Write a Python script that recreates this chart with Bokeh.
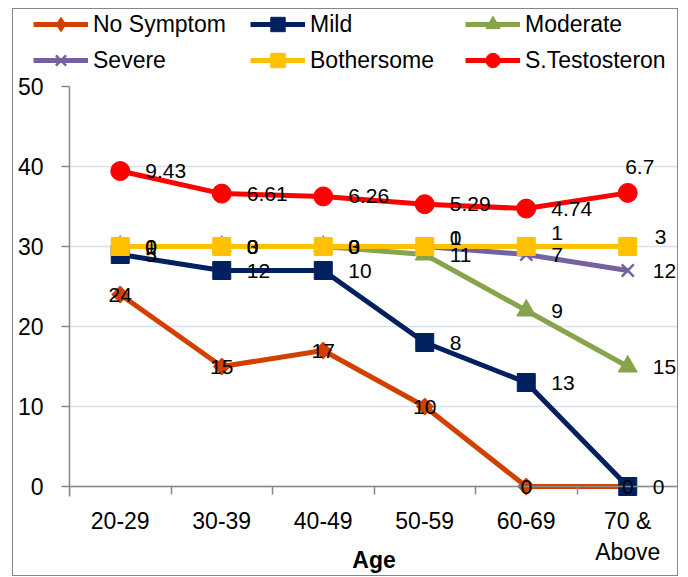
import numpy as np
from bokeh.plotting import figure
from bokeh.layouts import column
from bokeh.core.properties import value
from bokeh.models import (ColumnDataSource, Range1d, FixedTicker, Legend, LegendItem,
                          LabelSet, LinearAxis)
from bokeh.embed import file_html
from bokeh.resources import INLINE

# Age groups and symptom counts (stacked), testosterone stacked on top
age_groups = ["20-29", "30-39", "40-49", "50-59", "60-69", "70 &\nAbove"]
no_symptom = [24, 15, 17, 10, 0, 0]
mild = [5, 12, 10, 8, 13, 0]
moderate = [1, 3, 3, 11, 9, 15]
severe = [0, 0, 0, 1, 7, 12]
bothersome = [0, 0, 0, 0, 1, 3]
s_testosteron = [9.43, 6.61, 6.26, 5.29, 4.74, 6.7]
y_ticks = [0, 10, 20, 30, 40, 50]

FONT = "Liberation Sans"
AXIS_GRAY = "#878787"
BORDER = f"1px solid {AXIS_GRAY}"
W = 666
LEG_H = 64
MAIN_H = 504

series = [
    ("No Symptom", no_symptom, "#D24000", dict(marker="square", size=12, angle=np.pi / 4)),
    ("Mild", mild, "#002060", dict(marker="square", size=18)),
    ("Moderate", moderate, "#87A34B", dict(marker="triangle", size=19)),
    ("Severe", severe, "#7462A0", dict(marker="x", size=17, line_width=2.5)),
    ("Bothersome", bothersome, "#FFC000", dict(marker="square", size=18)),
    ("S.Testosteron", s_testosteron, "#FF0000", dict(marker="circle", size=19)),
]

xs = [i + 0.5 for i in range(len(age_groups))]

# ---------------- main chart ----------------
p = figure(width=W, height=MAIN_H, output_backend="svg", toolbar_location=None,
           x_range=Range1d(0, 6), y_range=Range1d(-1.25, 50),
           x_axis_location=None, y_axis_location="left",
           min_border_left=56, min_border_right=1, min_border_top=14, min_border_bottom=80,
           background_fill_color="white", border_fill_color="white")
p.outline_line_color = None
p.frame_align = False
p.styles = {"border": BORDER, "border-top": "none"}

# x axis: category names under the frame, with the bold axis title
x_labels = LinearAxis(ticker=FixedTicker(ticks=xs),
                      major_label_overrides={x: lab for x, lab in zip(xs, age_groups)},
                      axis_line_color=None, major_tick_line_color=None, minor_tick_line_color=None,
                      major_tick_out=0, major_tick_in=0, minor_tick_out=0, minor_tick_in=0,
                      major_label_standoff=11, major_label_text_font=FONT,
                      major_label_text_font_size="23px", major_label_text_color="#000000",
                      axis_label="Age", axis_label_standoff=-21, axis_label_text_font=FONT,
                      axis_label_text_font_size="23px", axis_label_text_font_style="bold",
                      axis_label_text_color="#000000", axis_label_text_align="right")
p.add_layout(x_labels, "below")

# x axis line with category boundary ticks, crossing at y = 0
x_line = LinearAxis(ticker=FixedTicker(ticks=xs, minor_ticks=list(range(7))),
                    fixed_location=0,
                    major_label_overrides={x: "" for x in xs},
                    axis_line_color=AXIS_GRAY, axis_line_width=1.5,
                    major_tick_out=0, major_tick_in=0, minor_tick_out=0, minor_tick_in=8,
                    minor_tick_line_color=AXIS_GRAY, minor_tick_line_width=1.5,
                    major_label_standoff=0, major_label_text_font_size="1px")
p.add_layout(x_line, "above")

ya = p.yaxis[0]
ya.ticker = FixedTicker(ticks=y_ticks)
ya.major_tick_out = 8
ya.major_tick_in = 0
ya.minor_tick_out = 0
ya.minor_tick_in = 0
ya.major_label_standoff = 18
ya.axis_line_color = AXIS_GRAY
ya.axis_line_width = 1.5
ya.major_tick_line_color = AXIS_GRAY
ya.major_tick_line_width = 1.5
ya.major_label_text_font = FONT
ya.major_label_text_font_size = "23px"
ya.major_label_text_color = "#000000"

p.xgrid.grid_line_color = None
p.ygrid.ticker = FixedTicker(ticks=y_ticks)
p.ygrid.grid_line_color = "#D5E2F0"
p.ygrid.grid_line_width = 1.5

# ---------------- legend strip ----------------
# its ranges sit away from the data so only the legend swatches show
lg = figure(width=W, height=LEG_H, output_backend="svg", toolbar_location=None,
            x_range=Range1d(100, 100 + W), y_range=Range1d(100, 100 + LEG_H),
            x_axis_location=None, y_axis_location=None,
            min_border_left=0, min_border_right=0, min_border_top=0, min_border_bottom=0,
            background_fill_color="white", border_fill_color="white")
lg.outline_line_color = None
lg.grid.visible = False
lg.frame_align = False
lg.styles = {"border": BORDER, "border-bottom": "none"}

# stacked lines
cum = np.zeros(len(xs))
items = []
left_lx, left_ly, left_t, left_dx, left_dy = [], [], [], [], []
cen_lx, cen_ly, cen_t, cen_dx, cen_dy = [], [], [], [], []

# label nudges to keep crowded labels readable
nudge = {("Severe", 3): (0, 9), ("Bothersome", 3): (0, 9),
         ("Bothersome", 4): (0, 14), ("Bothersome", 5): (2, 10)}

for name, vals, color, mk in series:
    cum = cum + np.array(vals, dtype=float)
    src = ColumnDataSource(dict(x=xs, y=list(cum)))
    opts = dict(mk)
    lw = opts.pop("line_width", 1)
    p.line("x", "y", source=src, line_color=color, line_width=5)
    p.scatter("x", "y", source=src, fill_color=color, line_color=color, line_width=lw, **opts)
    # same series in the legend strip, outside its visible range
    leg_opts = dict(opts)
    if "angle" in leg_opts:
        leg_opts.pop("angle")
        leg_opts["marker"] = "diamond"
    r_line = lg.line("x", "y", source=src, line_color=color, line_width=5)
    r_pt = lg.scatter("x", "y", source=src, fill_color=color, line_color=color,
                      line_width=lw, **leg_opts)
    items.append(LegendItem(label=name, renderers=[r_line, r_pt]))
    for i, (x, y, v) in enumerate(zip(xs, cum, vals)):
        txt = f"{v:g}"
        if name == "No Symptom":
            cen_lx.append(x); cen_ly.append(y); cen_t.append(txt); cen_dx.append(0); cen_dy.append(0)
        elif name == "S.Testosteron" and i == len(xs) - 1:
            cen_lx.append(x); cen_ly.append(y); cen_t.append(txt); cen_dx.append(12); cen_dy.append(26)
        else:
            dx, dy = nudge.get((name, i), (0, 0))
            left_lx.append(x); left_ly.append(y); left_t.append(txt)
            left_dx.append(25 + dx); left_dy.append(dy)

lab_style = dict(text_font=value(FONT), text_font_size=value("21px"), text_color="#000000",
                 text_baseline="middle")
p.add_layout(LabelSet(x="x", y="y", text="t", x_offset="dx", y_offset="dy",
                      source=ColumnDataSource(dict(x=left_lx, y=left_ly, t=left_t, dx=left_dx, dy=left_dy)),
                      text_align="left", **lab_style))
p.add_layout(LabelSet(x="x", y="y", text="t", x_offset="dx", y_offset="dy",
                      source=ColumnDataSource(dict(x=cen_lx, y=cen_ly, t=cen_t, dx=cen_dx, dy=cen_dy)),
                      text_align="center", **lab_style))

for col, x0 in enumerate([20, 237, 452]):
    leg = Legend(items=[items[col], items[col + 3]], location=(x0, -5),
                 orientation="vertical", glyph_width=55, glyph_height=36, label_height=36,
                 label_standoff=5, spacing=0, padding=0, margin=0,
                 border_line_color=None, background_fill_alpha=0,
                 label_text_font=FONT, label_text_font_size="23px", label_text_color="#000000")
    lg.add_layout(leg, "center")

layout = column(lg, p, spacing=0)
layout.styles = {"margin-left": "12px", "margin-top": "8px"}

open("out.html", "w").write(file_html(layout, INLINE))
